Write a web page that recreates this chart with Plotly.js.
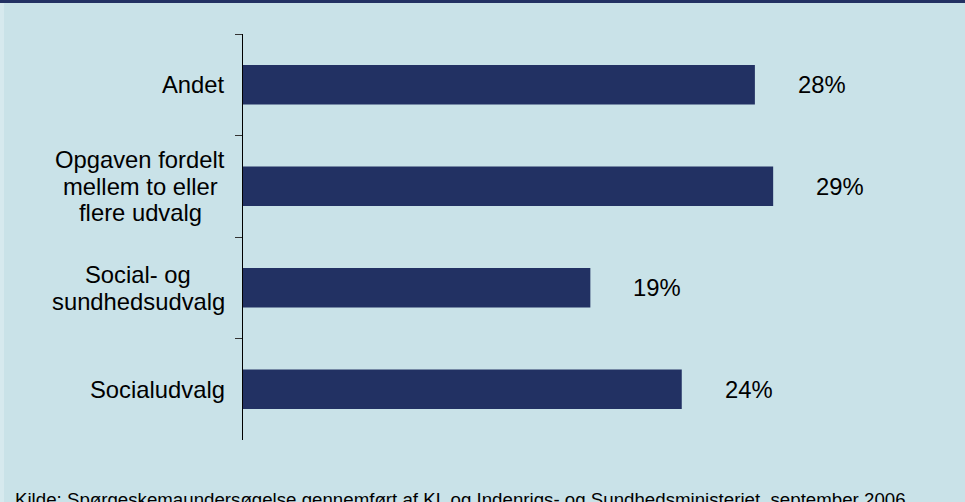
<!DOCTYPE html>
<html>
<head>
<meta charset="utf-8">
<script src="https://cdn.plot.ly/plotly-3.0.1.min.js"></script>
<style>html,body{margin:0;padding:0;background:#C9E2E8;}#chart{width:965px;height:502px;}</style>
</head>
<body>
<div id="chart"></div>
<script>
const categories = ["Andet", "Opgaven fordelt<br>mellem to eller<br>flere udvalg", "Social- og<br>sundhedsudvalg", "Socialudvalg"];
const values = [28, 29, 19, 24];
const valueLabels = ["28%", "29%", "19%", "24%"];
const sourceText = "Kilde: Spørgeskemaundersøgelse gennemført af KL og Indenrigs- og Sundhedsministeriet, september 2006";

const FONT = "'Liberation Sans', Arial, sans-serif";
const FS = 23.8;
const NAVY = "#223163";
const BG = "#C9E2E8";
const LINE_H = 26.5;

const ctx = document.createElement("canvas").getContext("2d");
ctx.font = FS + "px 'Liberation Sans'";

const annotations = [];
// category labels: multi-line blocks, centred lines, right edge at fixed gap from axis
categories.forEach((cat, i) => {
  const lines = cat.split("<br>");
  const maxW = Math.max(...lines.map(l => ctx.measureText(l).width));
  lines.forEach((line, k) => {
    annotations.push({
      xref: "paper", yref: "y", x: 0, y: cat,
      text: line, showarrow: false,
      xanchor: "center", yanchor: "middle",
      xshift: -18 - maxW / 2,
      yshift: ((lines.length - 1) / 2 - k) * LINE_H,
      font: {family: FONT, size: FS, color: "#000"}
    });
  });
});
// value labels
values.forEach((v, i) => {
  annotations.push({
    xref: "x", yref: "y", x: v, y: categories[i],
    text: valueLabels[i], showarrow: false,
    xanchor: "center", yanchor: "middle", xshift: 67,
    font: {family: FONT, size: FS, color: "#000"}
  });
});
// source note
annotations.push({
  xref: "paper", yref: "paper", x: 0, y: 0,
  text: sourceText, showarrow: false,
  xanchor: "left", yanchor: "top", xshift: -230, yshift: -47,
  font: {family: FONT, size: 18.7, color: "#000"}
});

const trace = {
  type: "bar", orientation: "h",
  x: values, y: categories,
  width: 0.39,
  marker: {color: NAVY},
  hoverinfo: "none"
};

const layout = {
  width: 965, height: 502,
  margin: {l: 243, r: 7, t: 34, b: 62},
  paper_bgcolor: BG, plot_bgcolor: BG,
  showlegend: false,
  xaxis: {visible: false, range: [0, 39.11], fixedrange: true},
  yaxis: {
    type: "category", categoryorder: "array", categoryarray: categories,
    autorange: "reversed",
    showticklabels: false,
    tickson: "boundaries", ticks: "outside", ticklen: 7, tickcolor: "#333", tickwidth: 1,
    showline: true, linecolor: "#000", linewidth: 1,
    showgrid: false, zeroline: false, fixedrange: true
  },
  shapes: [
    {type: "rect", xref: "paper", yref: "paper", xsizemode: "pixel", ysizemode: "pixel",
     xanchor: 0, yanchor: 1, x0: -250, x1: 740, y0: 31, y1: 40,
     fillcolor: NAVY, line: {width: 0}, layer: "above"},
    {type: "rect", xref: "paper", yref: "paper", xsizemode: "pixel", ysizemode: "pixel",
     xanchor: 0, yanchor: 1, x0: -250, x1: -239, y0: 31, y1: -480,
     fillcolor: "#D6E9EE", line: {width: 0}, layer: "below"}
  ],
  annotations: annotations
};

Plotly.newPlot("chart", [trace], layout, {displayModeBar: false, staticPlot: true});
</script>
</body>
</html>
